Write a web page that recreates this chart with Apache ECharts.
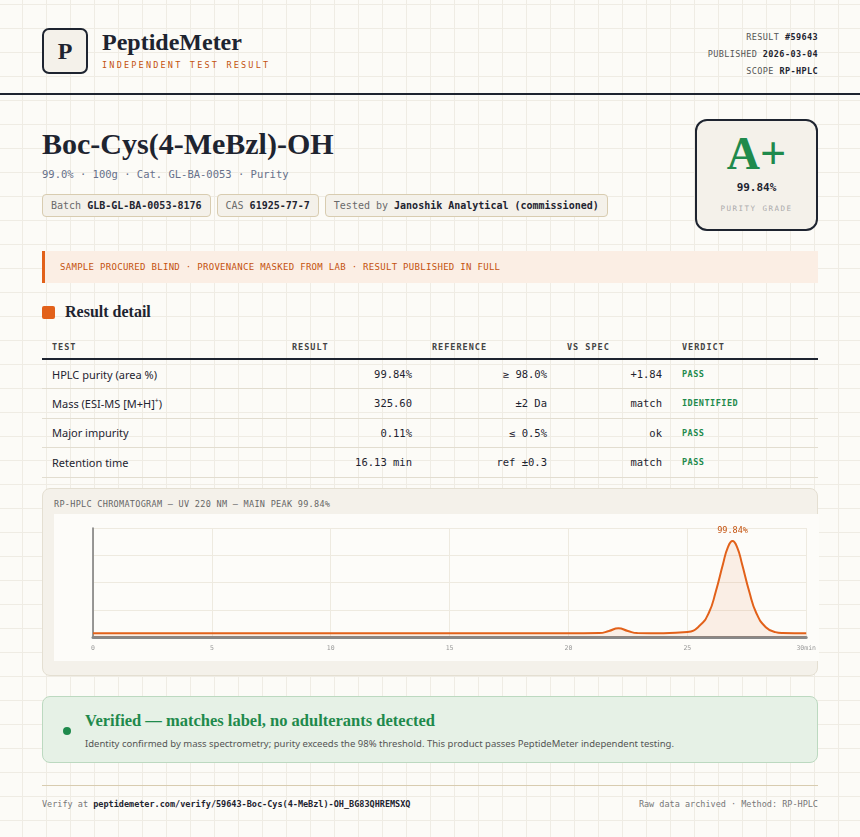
<!DOCTYPE html>
<html><head><meta charset="utf-8">
<script src="https://cdn.jsdelivr.net/npm/echarts@6/dist/echarts.min.js"></script>
<style>
*{box-sizing:border-box;margin:0;padding:0}
body{width:860px;height:837px;overflow:hidden;background-color:#fcfbf7;
background-image:linear-gradient(#efece4 1px,transparent 1px),linear-gradient(90deg,#efece4 1px,transparent 1px);
background-size:24px 24px;background-position:-2px 4px;font-family:"Noto Sans",sans-serif;color:#1e2430;position:relative}
.mono{font-family:"DejaVu Sans Mono",monospace}
.serif{font-family:"Liberation Serif",serif}
.abs{position:absolute}
.logo{left:42px;top:28px;width:46px;height:46px;border:2px solid #1e2430;border-radius:7px;background:#f4f1ea;font:bold 24px "Liberation Serif",serif;display:flex;align-items:center;justify-content:center}
.chip{display:inline-block;border:1px solid #d8ccb0;background:#f4f1ea;border-radius:4px;padding:5px 8px;font-size:10px;margin-right:6px;color:#6a6a6a}
.chip b{color:#1e2430}
table{border-collapse:collapse;width:776px;font-size:11px}
th{font:bold 8.5px "DejaVu Sans Mono",monospace;letter-spacing:1px;color:#444;text-align:left;padding:0 0 6px 10px;border-bottom:2px solid #1e2430}
td{height:29.5px;border-bottom:1px solid #e2ddd0;padding:0 10px}
td.r{text-align:right;font-family:"DejaVu Sans Mono",monospace;font-size:10.5px}
td.v{font:bold 8.5px "DejaVu Sans Mono",monospace;color:#1f8a4c;letter-spacing:.5px}
</style></head><body>
<div class="abs logo">P</div>
<div class="abs serif" style="left:102px;top:29px;font-size:24px;font-weight:bold">PeptideMeter</div>
<div class="abs mono" style="left:102px;top:60px;font-size:8.5px;letter-spacing:2.2px;color:#c4520e">INDEPENDENT TEST RESULT</div>
<div class="abs mono" style="right:42px;top:29px;font-size:8.5px;color:#555;text-align:right;line-height:17px;letter-spacing:.4px">RESULT <b style="color:#1e2430">#59643</b><br>PUBLISHED <b style="color:#1e2430">2026-03-04</b><br>SCOPE <b style="color:#1e2430">RP-HPLC</b></div>
<div class="abs" style="left:0;top:93px;width:860px;height:2px;background:#1e2430"></div>
<div class="abs serif" style="left:42px;top:127px;font-size:30px;font-weight:bold">Boc-Cys(4-MeBzl)-OH</div>
<div class="abs mono" style="left:42px;top:168px;font-size:10.5px;color:#66708a">99.0% · 100g · Cat. GL-BA-0053 · Purity</div>
<div class="abs mono" style="left:42px;top:194px"><span class="chip">Batch <b>GLB-GL-BA-0053-8176</b></span><span class="chip">CAS <b>61925-77-7</b></span><span class="chip">Tested by <b>Janoshik Analytical (commissioned)</b></span></div>
<div class="abs" style="left:695px;top:119px;width:123px;height:112px;border:2px solid #1e2430;border-radius:12px;background:#f4f1ea;text-align:center">
<div class="serif" style="font-size:46px;font-weight:bold;color:#1f8a4c;margin-top:8px;line-height:50px">A+</div>
<div class="mono" style="font-size:11px;font-weight:bold;margin-top:2px">99.84%</div>
<div class="mono" style="font-size:7.5px;letter-spacing:1.5px;color:#aaa;margin-top:10px">PURITY GRADE</div></div>
<div class="abs mono" style="left:42px;top:251px;width:776px;height:32px;background:#fbeee4;border-left:3px solid #e2611a;font-size:9px;color:#c4520e;padding:11px 0 0 15px;letter-spacing:.3px">SAMPLE PROCURED BLIND · PROVENANCE MASKED FROM LAB · RESULT PUBLISHED IN FULL</div>
<div class="abs" style="left:42px;top:306px;width:13px;height:13px;background:#e2611a;border-radius:2px"></div>
<div class="abs serif" style="left:65px;top:303px;font-size:16px;font-weight:bold">Result detail</div>
<table class="abs" style="left:42px;top:342px">
<tr><th style="width:240px">TEST</th><th style="width:140px">RESULT</th><th style="width:135px">REFERENCE</th><th style="width:115px">VS SPEC</th><th>VERDICT</th></tr>
<tr><td>HPLC purity (area %)</td><td class="r">99.84%</td><td class="r">≥ 98.0%</td><td class="r">+1.84</td><td class="v">PASS</td></tr>
<tr><td>Mass (ESI-MS [M+H]<sup style="font-size:7px">+</sup>)</td><td class="r">325.60</td><td class="r">±2 Da</td><td class="r">match</td><td class="v">IDENTIFIED</td></tr>
<tr><td>Major impurity</td><td class="r">0.11%</td><td class="r">≤ 0.5%</td><td class="r">ok</td><td class="v">PASS</td></tr>
<tr><td>Retention time</td><td class="r">16.13 min</td><td class="r">ref ±0.3</td><td class="r">match</td><td class="v">PASS</td></tr>
</table>
<div class="abs" style="left:42px;top:488px;width:776px;height:188px;background:#f4f1ea;border:1px solid #e4dfd2;border-radius:8px">
<div class="mono" style="position:absolute;left:11px;top:10px;font-size:8.5px;color:#666;letter-spacing:.3px">RP-HPLC CHROMATOGRAM — UV 220 NM — MAIN PEAK 99.84%</div>
<div id="c" style="position:absolute;left:11px;top:25px;width:765px;height:147px;background:#fdfcf9"></div></div>
<div class="abs" style="left:42px;top:696px;width:776px;height:67px;background:#e6f1e6;border:1px solid #bcd9c0;border-radius:8px">
<div style="position:absolute;left:20px;top:30px;width:8px;height:8px;border-radius:50%;background:#1f8a4c"></div>
<div class="serif" style="position:absolute;left:42px;top:14px;font-size:16.5px;font-weight:bold;color:#1f8a4c">Verified — matches label, no adulterants detected</div>
<div style="position:absolute;left:42px;top:40px;font-size:9.5px;color:#555">Identity confirmed by mass spectrometry; purity exceeds the 98% threshold. This product passes PeptideMeter independent testing.</div></div>
<div class="abs" style="left:42px;top:785px;width:776px;height:1px;background:#d8ccb0"></div>
<div class="abs mono" style="left:42px;top:799px;font-size:8.5px;color:#777">Verify at <b style="color:#1e2430">peptidemeter.com/verify/59643-Boc-Cys(4-MeBzl)-OH_BG83QHREMSXQ</b></div>
<div class="abs mono" style="right:42px;top:799px;font-size:8.5px;color:#777">Raw data archived · Method: RP-HPLC</div>
<script>
const times=[0,5,10,15,20,21.3,21.7,22.1,22.5,22.9,24,25,25.5,25.9,26.2,26.5,26.7,26.9,27.1,27.3,27.6,27.9,28.3,28.7,29,30];
const signal=[3.5,3.5,3.5,3.5,3.5,3.6,5.5,8,5.5,3.6,3.5,4.5,10,22,42,67,82,88,82,67,42,22,9,4.5,3.7,3.5];
const xTicks=[0,5,10,15,20,25,30];
const peakLabel="99.84%";
const peakIndex=17;
const ch=echarts.init(document.getElementById('c'));
ch.setOption({animation:false,
grid:{left:39,right:8,top:14,bottom:24},
xAxis:{type:'value',min:0,max:30,interval:5,axisLine:{lineStyle:{color:'#888',width:3}},axisTick:{show:false},
 splitLine:{lineStyle:{color:'#eeeae0'}},axisLabel:{fontSize:6.5,color:'#999',fontFamily:'DejaVu Sans Mono',formatter:v=>v===30?'30min':xTicks.includes(v)?v:''}},
yAxis:{type:'value',min:0,max:100,interval:25,axisLine:{show:true,lineStyle:{color:'#777',width:1.5}},axisTick:{show:false},axisLabel:{show:false},splitLine:{lineStyle:{color:'#eeeae0'}}},
series:[{type:'line',data:times.map((t,i)=>[t,signal[i]]),smooth:0.5,symbol:'none',lineStyle:{color:'#e2611a',width:2},areaStyle:{color:'rgba(226,97,26,0.12)'},
 markPoint:{symbol:'circle',symbolSize:0,data:[{coord:[times[peakIndex],signal[peakIndex]]}],
  label:{show:true,position:'top',distance:6,formatter:peakLabel,color:'#c4520e',fontFamily:'DejaVu Sans Mono',fontSize:8.5}}}]});
</script></body></html>
